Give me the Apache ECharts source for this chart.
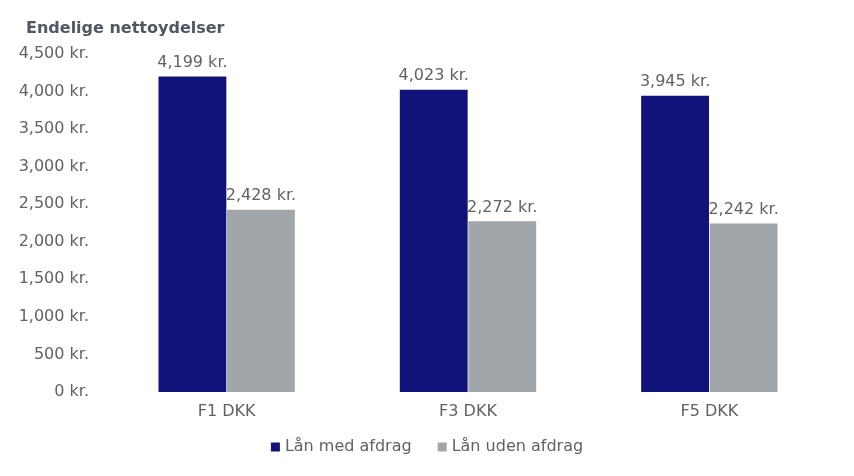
<!DOCTYPE html>
<html>
<head>
<meta charset="utf-8">
<script src="https://cdn.jsdelivr.net/npm/echarts@6/dist/echarts.min.js"></script>
<style>html,body{margin:0;padding:0;background:#fff;}#c{width:854px;height:476px;}</style>
</head>
<body>
<div id="c"></div>
<script>
var categories = ['F1 DKK', 'F3 DKK', 'F5 DKK'];
var medAfdrag = [4199, 4023, 3945];
var udenAfdrag = [2428, 2272, 2242];
var seriesNames = ['Lån med afdrag', 'Lån uden afdrag'];

function kr(v) {
  return String(v).replace(/\B(?=(\d{3})+(?!\d))/g, ',') + ' kr.';
}
var font = '"DejaVu Sans", Verdana, sans-serif';
var txt = '#5f6266';
var chart = echarts.init(document.getElementById('c'));
chart.setOption({
  animation: false,
  title: {
    text: 'Endelige nettoydelser', left: 21, top: 16,
    textStyle: {fontFamily: font, fontSize: 16, fontWeight: 'bold', color: '#4d5862'}
  },
  legend: {
    bottom: 16, left: 'center', itemWidth: 9, itemHeight: 9, itemGap: 26,
    icon: 'rect',
    textStyle: {fontFamily: font, fontSize: 16, color: txt, padding: [0, 0, 0, 0]},
    data: seriesNames
  },
  grid: {left: 106, right: 24, top: 54, bottom: 84},
  xAxis: {
    type: 'category', data: categories,
    axisLine: {show: false}, axisTick: {show: false},
    axisLabel: {fontFamily: font, fontSize: 16, color: txt, margin: 12}
  },
  yAxis: {
    type: 'value', min: 0, max: 4500, interval: 500,
    splitLine: {show: false}, axisLine: {show: false}, axisTick: {show: false},
    axisLabel: {fontFamily: font, fontSize: 16, color: txt, margin: 17, formatter: kr}
  },
  series: [
    {
      name: seriesNames[0], type: 'bar', data: medAfdrag, barGap: '1%', barCategoryGap: '43.5%',
      itemStyle: {color: '#12137a'},
      label: {show: true, position: 'top', distance: 6, fontFamily: font, fontSize: 16, color: txt, formatter: function(p){return kr(p.value);}}
    },
    {
      name: seriesNames[1], type: 'bar', data: udenAfdrag,
      itemStyle: {color: '#a0a6aa'},
      label: {show: true, position: 'top', distance: 6, fontFamily: font, fontSize: 16, color: txt, formatter: function(p){return kr(p.value);}}
    }
  ]
});
</script>
</body>
</html>
